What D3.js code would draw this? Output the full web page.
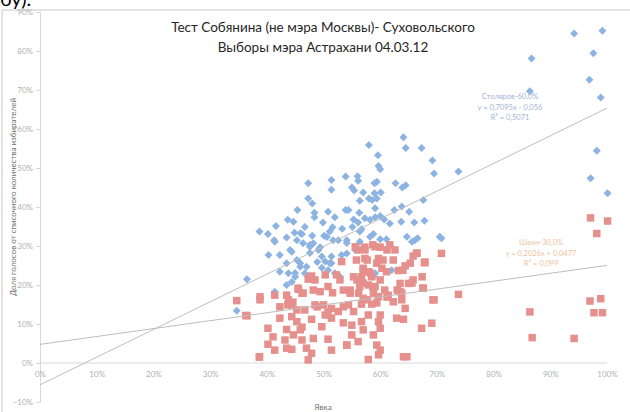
<!DOCTYPE html>
<html>
<head>
<meta charset="utf-8">
<script src="https://cdn.jsdelivr.net/npm/d3@7"></script>
<style>
  body { margin: 0; background: #fff; }
  svg { display: block; font-family: Lato, "Open Sans", sans-serif; }
</style>
</head>
<body>
<div id="chart"></div>
<script>
var PCTFORMAT = d3.format(".0%");

// Столяров, [явка %, доля %]
var stolyarovPoints = [
    [47.3, 46.1], [51.4, 46.9], [51.4, 44.4], [53.9, 47.8], [47.3, 42.2], [48.0, 40.9],
    [45.4, 39.2], [48.4, 38.5], [50.8, 38.8], [48.4, 37.4], [52.0, 37.4], [53.9, 39.2],
    [43.7, 36.7], [44.7, 36.2], [49.9, 36.0], [41.6, 35.1], [46.7, 34.9], [51.6, 34.8],
    [53.3, 34.4], [38.7, 33.7], [40.2, 33.1], [43.5, 32.2], [44.9, 33.4], [46.2, 33.1],
    [48.0, 32.6], [50.1, 32.6], [51.1, 33.7], [41.3, 31.5], [45.3, 31.5], [52.6, 31.5],
    [54.1, 31.5], [64.1, 57.9], [58.0, 55.9], [64.5, 55.1], [67.3, 55.1], [59.6, 53.3],
    [69.2, 51.9], [59.7, 50.5], [60.0, 49.7], [69.5, 48.6], [73.8, 49.1], [56.0, 47.9],
    [56.1, 46.7], [62.7, 46.1], [64.5, 45.6], [63.9, 45.0], [59.0, 46.1], [59.4, 46.5],
    [55.0, 45.0], [55.4, 44.2], [57.0, 43.7], [59.0, 43.5], [60.1, 43.7], [58.0, 42.2],
    [58.6, 41.8], [59.4, 42.2], [56.4, 41.6], [67.6, 41.8], [54.4, 39.2], [56.3, 38.5],
    [59.1, 39.7], [62.5, 39.2], [63.8, 40.1], [65.1, 38.8], [55.3, 36.8], [56.1, 36.0],
    [57.3, 37.1], [58.2, 36.7], [59.1, 37.4], [60.0, 37.7], [60.7, 36.8], [61.7, 35.8],
    [63.7, 36.2], [66.0, 36.0], [67.8, 36.5], [55.1, 34.9], [56.4, 33.7], [56.7, 34.3],
    [58.2, 32.4], [58.8, 33.1], [60.0, 31.7], [61.1, 31.7], [64.7, 32.4], [66.1, 31.5],
    [66.6, 32.0], [70.8, 32.0], [56.4, 31.1], [40.3, 27.7], [42.3, 27.7], [44.4, 28.5],
    [36.5, 21.5], [34.7, 13.4], [41.4, 18.3], [43.5, 25.6], [42.3, 23.4], [43.8, 23.0],
    [45.3, 26.4], [45.9, 24.7], [47.0, 24.7], [46.7, 23.0], [44.4, 20.8], [43.5, 20.0],
    [45.0, 22.1], [48.2, 30.7], [49.1, 29.0], [50.3, 26.0], [51.4, 25.6], [50.8, 23.8],
    [52.0, 23.0], [52.9, 22.1], [41.4, 31.1], [46.4, 30.7], [47.6, 29.8], [49.7, 27.3],
    [51.4, 27.3], [53.2, 27.7], [54.1, 28.1], [55.6, 29.0], [59.1, 23.0], [62.0, 23.8],
    [65.6, 31.1], [58.8, 22.1], [70.5, 32.4], [50.6, 32.3], [51.7, 31.5], [45.9, 33.3],
    [47.6, 30.3], [49.4, 29.7], [54.1, 30.8], [44.1, 29.0], [47.6, 28.2], [48.9, 25.9],
    [45.9, 25.6], [49.7, 24.4], [51.1, 25.6], [45.0, 23.1],
    [94.2, 84.5], [99.2, 85.2], [86.7, 78.1], [97.6, 79.4], [96.9, 72.6], [86.4, 69.7],
    [98.9, 68.1], [98.2, 54.4], [97.1, 47.4], [100.1, 43.5]
];

// Шеин, [явка %, доля %]
var sheinPoints = [
    [53.2, 26.0], [47.9, 22.3], [47.3, 21.5], [48.5, 21.3], [50.3, 22.6], [52.3, 22.6],
    [52.9, 21.3], [45.6, 18.9], [46.4, 17.9], [48.2, 18.7], [49.4, 18.3], [50.8, 19.6],
    [51.6, 18.0], [53.5, 18.7], [43.5, 17.4], [34.7, 16.0], [38.8, 16.2], [41.4, 17.4],
    [43.8, 16.2], [44.4, 14.9], [42.3, 14.4], [45.3, 13.6], [46.7, 13.6], [48.5, 14.9],
    [50.0, 14.9], [51.4, 14.0], [52.6, 13.2], [53.5, 14.4], [36.5, 12.1], [42.3, 11.5],
    [44.4, 11.9], [47.9, 11.2], [50.3, 12.3], [51.4, 11.5], [53.5, 10.3], [45.3, 10.6],
    [45.9, 8.5], [46.2, 9.2], [43.5, 8.6], [40.2, 8.9], [49.7, 9.3], [41.1, 6.7],
    [44.7, 7.2], [48.2, 6.3], [50.8, 6.1], [40.2, 4.8], [43.5, 3.8], [44.4, 3.5],
    [47.0, 3.8], [47.9, 2.5], [51.4, 3.3], [54.1, 4.6], [38.7, 1.5], [47.3, 0.8],
    [55.6, 29.8], [57.3, 29.0], [59.1, 29.8], [61.7, 30.3], [62.6, 29.0], [66.4, 28.1],
    [65.8, 27.4], [67.8, 25.7], [55.8, 26.4], [57.3, 26.8], [59.7, 26.8], [62.3, 26.4],
    [64.4, 24.9], [63.2, 23.7], [57.0, 24.3], [57.9, 23.4], [60.3, 24.3], [61.1, 23.4],
    [55.3, 22.1], [56.7, 22.1], [58.5, 22.1], [60.0, 21.3], [65.8, 21.3], [65.0, 20.4],
    [67.6, 19.2], [63.5, 20.4], [54.7, 18.7], [56.4, 19.6], [57.9, 20.0], [59.1, 19.6],
    [56.2, 17.9], [58.8, 17.9], [60.8, 18.7], [61.4, 17.4], [63.5, 18.3], [57.0, 16.6],
    [59.7, 17.0], [62.3, 15.7], [63.8, 16.2], [69.5, 16.2], [54.4, 14.9], [56.7, 15.1],
    [58.5, 15.1], [55.3, 13.2], [57.9, 12.3], [60.0, 12.3], [64.4, 14.0], [62.9, 11.5],
    [64.1, 11.2], [56.7, 10.6], [59.7, 10.6], [55.0, 9.7], [60.0, 8.9], [69.1, 10.2],
    [67.3, 8.9], [55.0, 7.2], [57.0, 8.5], [58.8, 7.2], [56.1, 5.5], [54.1, 4.6],
    [59.4, 4.6], [59.7, 2.1], [60.0, 3.3], [57.9, 0.9], [64.1, 1.6], [64.7, 1.6],
    [36.3, 12.2], [38.8, 17.0], [38.7, 1.6], [70.8, 28.1], [73.8, 17.6],
    [47.6, 22.1], [45.5, 19.2], [46.2, 17.9], [44.6, 15.6], [43.7, 14.9], [48.9, 14.4],
    [50.8, 13.1], [56.1, 29.0], [57.3, 29.7], [58.7, 30.3], [60.0, 29.7], [61.2, 29.0],
    [57.7, 26.4], [59.4, 25.6], [60.5, 26.4], [57.0, 23.8], [58.2, 23.1], [55.9, 21.3],
    [57.0, 20.5], [58.7, 19.5], [54.7, 17.9], [57.7, 16.2], [59.4, 15.4], [61.2, 16.9],
    [63.0, 18.7], [63.8, 17.9], [65.6, 20.5], [67.4, 22.1], [67.5, 19.2], [69.3, 16.2],
    [66.5, 28.2], [67.9, 25.9], [64.0, 23.8], [65.3, 25.6], [41.4, 3.3], [43.2, 5.9],
    [46.2, 5.9],
    [97.1, 37.2], [100.1, 36.4], [98.2, 33.2], [86.4, 13.1], [97.0, 15.9], [98.9, 16.5],
    [97.7, 12.9], [99.2, 12.9], [86.8, 6.5], [94.2, 6.3]
];

// trend lines: [slope, intercept]
var stolyarovTrend = [0.7095, -0.056];
var sheinTrend = [0.2026, 0.0477];

var stolyarovLabels = ["Столяров-60,0%", "y = 0,7095x - 0,056", "R² = 0,5071"];
var sheinLabels = ["Шеин-30,0%", "y = 0,2026x + 0,0477", "R² = 0,099"];

var xTicks = [0, 0.1, 0.2, 0.3, 0.4, 0.5, 0.6, 0.7, 0.8, 0.9, 1];
var yTicks = [-0.1, 0, 0.1, 0.2, 0.3, 0.4, 0.5, 0.6, 0.7, 0.8, 0.9];

var titleLines = ["Тест Собянина (не мэра Москвы)- Суховольского", "Выборы мэра Астрахани 04.03.12"];

var width = 630,
    height = 412;

var xScale = d3.scaleLinear()
    .domain([0, 1])
    .range([40, 607]);

var yScale = d3.scaleLinear()
    .domain([-0.1, 0.9])
    .range([402, 12]);

var svg = d3.select("#chart")
    .append("svg")
    .attr("width", width)
    .attr("height", height);

// scrap of page text above the picture
svg.append("text")
    .attr("x", 0)
    .attr("y", 6)
    .attr("font-size", 20)
    .attr("fill", "#000")
    .text("бу).");

// frame
svg.append("line")
    .attr("x1", 2).attr("x2", 2).attr("y1", 10).attr("y2", height)
    .attr("stroke", "#c8c8c8");
svg.append("line")
    .attr("x1", 2).attr("x2", width).attr("y1", 10).attr("y2", 10)
    .attr("stroke", "#c8c8c8");

// axes
var yAxis = svg.append("g")
    .attr("transform", "translate(" + xScale(0) + ",0)")
    .call(d3.axisLeft(yScale).tickValues(yTicks).tickFormat(PCTFORMAT).tickSize(4).tickPadding(3));

var xAxis = svg.append("g")
    .attr("transform", "translate(0," + yScale(0) + ")")
    .call(d3.axisBottom(xScale).tickValues(xTicks).tickFormat(PCTFORMAT).tickSize(0).tickPadding(8));

[yAxis, xAxis].forEach(function(g) {
    g.select(".domain").attr("stroke", "#d9d9d9");
    g.selectAll(".tick line").attr("stroke", "#d9d9d9");
    g.selectAll("text").attr("fill", "#b0b0b0").attr("font-size", 8).attr("font-family", "Lato, sans-serif");
});
xAxis.select(".domain").attr("d", "M" + xScale(0) + ",0H" + xScale(1));

// axis titles
svg.append("text")
    .attr("transform", "translate(16,197) rotate(-90)")
    .attr("text-anchor", "middle")
    .attr("font-size", 8)
    .attr("fill", "#707070")
    .text("Доля голосов от списочного количества избирателей");

svg.append("text")
    .attr("x", 323)
    .attr("y", 410)
    .attr("text-anchor", "middle")
    .attr("font-size", 8)
    .attr("fill", "#707070")
    .text("Явка");

// title
svg.selectAll(".title")
    .data(titleLines)
    .enter()
    .append("text")
    .attr("class", "title")
    .attr("x", 323)
    .attr("y", function(d, i) { return 32 + i * 20; })
    .attr("text-anchor", "middle")
    .attr("font-size", 13.5)
    .attr("fill", "#262626")
    .text(function(d) { return d; });

// points
svg.append("g")
    .selectAll("path")
    .data(stolyarovPoints)
    .enter()
    .append("path")
    .attr("d", d3.symbol(d3.symbolSquare, 32))
    .attr("transform", function(d) {
        return "translate(" + xScale(d[0] / 100) + "," + yScale(d[1] / 100) + ") rotate(45)";
    })
    .attr("fill", "#8db3e2");

svg.append("g")
    .selectAll("path")
    .data(sheinPoints)
    .enter()
    .append("path")
    .attr("d", d3.symbol(d3.symbolSquare, 56))
    .attr("transform", function(d) {
        return "translate(" + xScale(d[0] / 100) + "," + yScale(d[1] / 100) + ")";
    })
    .attr("fill", "#e6908d");

// trend lines
function drawTrend(coef) {
    svg.append("line")
        .attr("x1", xScale(0))
        .attr("y1", yScale(coef[1]))
        .attr("x2", xScale(1))
        .attr("y2", yScale(coef[0] + coef[1]))
        .attr("stroke", "#bdbdbd")
        .attr("stroke-width", 1);
}
drawTrend(stolyarovTrend);
drawTrend(sheinTrend);

function drawLabel(lines, cx, cy, color) {
    svg.append("g")
        .selectAll("text")
        .data(lines)
        .enter()
        .append("text")
        .attr("x", cx)
        .attr("y", function(d, i) { return cy + i * 10.5; })
        .attr("text-anchor", "middle")
        .attr("font-size", 7.5)
        .attr("fill", color)
        .text(function(d) { return d; });
}
drawLabel(stolyarovLabels, 510, 99, "#a3b4d6");
drawLabel(sheinLabels, 541, 245, "#edc3a0");
</script>
</body>
</html>
